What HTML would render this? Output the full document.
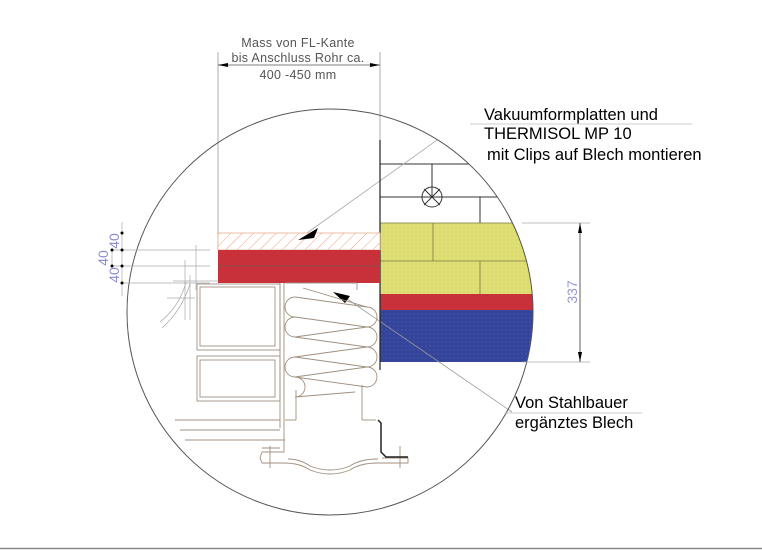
<!DOCTYPE html>
<html><head><meta charset="utf-8"><style>
html,body{margin:0;padding:0;background:#fff;}
svg{display:block;}
text{font-family:"Liberation Sans",sans-serif;}
</style></head><body>
<svg width="762" height="550" viewBox="0 0 762 550" xmlns="http://www.w3.org/2000/svg">
<defs>
<pattern id="hatch" width="8" height="8" patternUnits="userSpaceOnUse" patternTransform="rotate(45)">
<rect width="8" height="8" fill="#fff"/><line x1="0" y1="0" x2="0" y2="8" stroke="#f0a07a" stroke-width="1"/></pattern>
<pattern id="yd" width="4" height="4" patternUnits="userSpaceOnUse"><rect width="4" height="4" fill="#dcdc70"/><circle cx="2" cy="2" r="0.6" fill="#eeee9a"/></pattern>
<pattern id="bd" width="4" height="4" patternUnits="userSpaceOnUse"><rect width="4" height="4" fill="#34449a"/><circle cx="2" cy="2" r="0.6" fill="#5060b0"/></pattern>
<clipPath id="cc"><circle cx="330" cy="312" r="203"/></clipPath>
</defs>

<line x1="0" y1="548.5" x2="762" y2="548.5" stroke="#888" stroke-width="1.5"/>

<!-- top dimension -->
<line x1="218" y1="52" x2="218" y2="250" stroke="#999" stroke-width="0.8"/>
<line x1="380" y1="52" x2="380" y2="140" stroke="#999" stroke-width="0.8"/>
<line x1="218" y1="65" x2="380" y2="65" stroke="#555" stroke-width="0.8"/>
<polygon points="218,65 228,63 228,67" fill="#000"/>
<polygon points="380,65 370,63 370,67" fill="#000"/>
<g font-size="12.5" fill="#555" text-anchor="middle" letter-spacing="0.3">
<text x="298" y="47">Mass von FL-Kante</text>
<text x="298" y="62">bis Anschluss Rohr ca.</text>
<text x="298" y="79">400 -450 mm</text>
</g>

<g clip-path="url(#cc)">
<g stroke="#333" stroke-width="1" fill="none">
<line x1="380" y1="164" x2="560" y2="164"/>
<line x1="432" y1="164" x2="432" y2="197"/>
<line x1="380" y1="197" x2="560" y2="197"/>
<line x1="480" y1="197" x2="480" y2="226"/>
<circle cx="432" cy="197" r="10"/>
<line x1="424" y1="189" x2="440" y2="205"/><line x1="440" y1="189" x2="424" y2="205"/>
</g>
<rect x="380" y="223" width="180" height="71" fill="url(#yd)"/>
<g stroke="#7a7a40" stroke-width="0.8"><line x1="380" y1="223" x2="560" y2="223"/><line x1="380" y1="261" x2="560" y2="261"/><line x1="433" y1="223" x2="433" y2="261"/><line x1="480" y1="261" x2="480" y2="294"/></g>
<rect x="380" y="294" width="180" height="16" fill="#c8303a"/>
<rect x="380" y="310" width="180" height="52" fill="url(#bd)"/>
<line x1="300" y1="238" x2="500" y2="95" stroke="#aaa" stroke-width="0.8"/>
</g>
<line x1="340" y1="294" x2="512" y2="412" stroke="#999" stroke-width="0.8"/>
<circle cx="330" cy="312" r="203" fill="none" stroke="#555" stroke-width="1"/>

<line x1="380" y1="140" x2="380" y2="370" stroke="#222" stroke-width="1.2"/>

<rect x="218" y="233" width="162" height="17" fill="url(#hatch)" stroke="#e8b090" stroke-width="0.8"/>
<rect x="218" y="250" width="162" height="33" fill="#c8303a"/>
<line x1="218" y1="266" x2="380" y2="266" stroke="#8a5050" stroke-width="1"/>
<polygon points="298,240 318,228 314,238" fill="#000"/>
<polygon points="333,292 350,296 345,303" fill="#000"/>

<g stroke="#aaa" stroke-width="0.7">
<line x1="122" y1="222" x2="122" y2="296"/>
<line x1="112" y1="250" x2="112" y2="266"/>
<line x1="112" y1="250" x2="210" y2="250"/><line x1="112" y1="266" x2="210" y2="266"/><line x1="122" y1="283" x2="210" y2="283"/>
<line x1="173" y1="281" x2="218" y2="281"/>
<line x1="196" y1="245" x2="196" y2="290"/>
<line x1="185" y1="260" x2="185" y2="320"/>
<line x1="190" y1="275" x2="190" y2="320"/>
<path d="M162 328 Q182 310 190 284" fill="none"/><path d="M160 322 Q180 306 186 282" fill="none"/>
<line x1="167" y1="298" x2="195" y2="298"/>
</g>
<g fill="#000"><circle cx="122" cy="233" r="1.5"/><circle cx="122" cy="250" r="1.5"/><circle cx="112" cy="250" r="1.5"/><circle cx="112" cy="266" r="1.5"/><circle cx="122" cy="266" r="1.5"/><circle cx="122" cy="283" r="1.5"/></g>
<g fill="#8888cc" font-size="14">
<text transform="translate(119,241) rotate(-90)" text-anchor="middle">40</text>
<text transform="translate(108,258) rotate(-90)" text-anchor="middle">40</text>
<text transform="translate(119,275) rotate(-90)" text-anchor="middle">40</text>
</g>

<g stroke="#a09080" stroke-width="0.9" fill="none">
<rect x="200" y="287" width="75" height="59"/>
<rect x="197" y="284" width="83" height="66"/>
<rect x="200" y="360" width="75" height="37"/>
<rect x="197" y="356" width="83" height="45"/>
<line x1="280" y1="283" x2="280" y2="428"/><line x1="284" y1="283" x2="284" y2="438"/>
<line x1="286" y1="283" x2="357" y2="283"/><line x1="357" y1="283" x2="357" y2="290"/>
<path d="M303 288 L367 307 A10 10 0 0 1 367 327 L295 317 A10 10 0 0 0 295 337 L367 347 A10 10 0 0 0 367 327 M367 347 A10 10 0 0 1 367 367 L295 357 A10 10 0 0 0 295 377 L367 387 A10 10 0 0 0 367 367 M295 317 A10 10 0 0 1 295 297 M295 377 A10 10 0 0 1 295 397 L355 392"/>
<path d="M295 337 L367 327 M295 357 L367 347 M295 377 L367 367 M295 297 L367 307"/>
<line x1="296" y1="390" x2="296" y2="420"/><line x1="296" y1="420" x2="285" y2="420"/>
<line x1="362" y1="385" x2="362" y2="420"/><line x1="362" y1="420" x2="376" y2="420"/>
<line x1="175" y1="420" x2="280" y2="420"/>
<line x1="180" y1="430" x2="280" y2="430"/>
<line x1="185" y1="440" x2="285" y2="440"/>
<path d="M284 438 L284 452 L262 452 L260 458 L262 463 L284 463 Q300 463 310 470 Q330 478 350 470 Q360 463 378 463 L408 463 L408 458 L382 458"/>
<path d="M280 448 L262 448 M288 459 Q300 459 310 466 Q330 474 350 466 Q360 459 378 459"/>
<line x1="270" y1="446" x2="270" y2="468"/><line x1="400" y1="446" x2="400" y2="468"/>
</g>
<path d="M378 420 L381 423 L381 452 L386 457 L408 457" fill="none" stroke="#222" stroke-width="1.5"/>

<g stroke="#aaa" stroke-width="0.8"><line x1="522" y1="223" x2="590" y2="223"/><line x1="522" y1="362" x2="590" y2="362"/></g>
<line x1="580" y1="223" x2="580" y2="362" stroke="#333" stroke-width="0.8"/>
<polygon points="580,223 578,233 582,233" fill="#000"/>
<polygon points="580,362 578,352 582,352" fill="#000"/>
<text transform="translate(577,292) rotate(-90)" font-size="14" fill="#9898d8" text-anchor="middle">337</text>

<line x1="470" y1="124" x2="692" y2="124" stroke="#bbb" stroke-width="0.8"/>
<g font-size="16.5" fill="#000">
<text x="484" y="120">Vakuumformplatten und</text>
<text x="484" y="139">THERMISOL MP 10</text>
<text x="487" y="160">mit Clips auf Blech montieren</text>
<text x="515" y="408">Von Stahlbauer</text>
<text x="515" y="428">ergänztes Blech</text>
</g>
<line x1="505" y1="413" x2="642" y2="413" stroke="#bbb" stroke-width="0.8"/>
</svg>
</body></html>
